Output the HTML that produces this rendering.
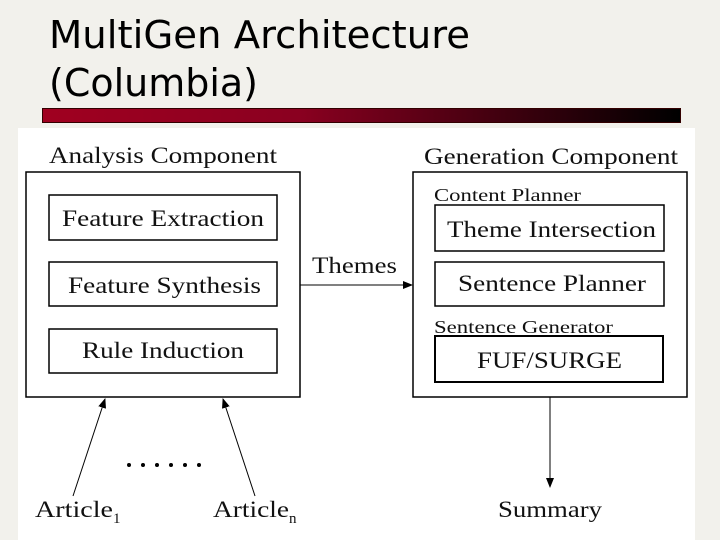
<!DOCTYPE html>
<html><head><meta charset="utf-8"><style>
body{margin:0;width:720px;height:540px;background:#f2f1ec;overflow:hidden;position:relative;font-family:"DejaVu Sans","Liberation Sans",sans-serif}
.bar{position:absolute;left:42px;top:108px;width:637px;height:13px;background:linear-gradient(to right,#a00020,#8a0020 40%,#000);border:1px solid #300}
svg{position:absolute;left:0;top:0}
</style></head><body>
<div class="bar"></div>
<svg width="720" height="540" font-family="Liberation Serif,serif" fill="#111">
<defs><marker id="a" markerWidth="10" markerHeight="8" refX="9" refY="4" orient="auto" markerUnits="userSpaceOnUse"><path d="M0,0 L10,4 L0,8 Z" fill="#000"/></marker></defs>
<g font-family="DejaVu Sans,Liberation Sans,sans-serif" font-size="38" fill="#000">
<text x="49" y="48" textLength="421" lengthAdjust="spacingAndGlyphs">MultiGen Architecture</text>
<text x="49" y="96" textLength="209" lengthAdjust="spacingAndGlyphs">(Columbia)</text>
</g>
<rect x="18" y="128" width="677" height="412" fill="#fff"/>
<g fill="none" stroke="#000" stroke-width="1.5">
<rect x="26" y="172" width="274" height="225"/>
<rect x="413" y="172" width="274" height="225"/>
<rect x="49" y="195" width="228" height="45"/>
<rect x="49" y="262" width="228" height="44"/>
<rect x="49" y="329" width="228" height="44"/>
<rect x="435" y="205" width="229" height="46"/>
<rect x="435" y="262" width="229" height="44"/>
<rect x="435" y="336" width="228" height="46" stroke-width="2"/>
<line x1="300" y1="285" x2="412" y2="285" stroke-width="1" marker-end="url(#a)"/>
<line x1="73" y1="496" x2="105" y2="399" stroke-width="1" marker-end="url(#a)"/>
<line x1="255" y1="496" x2="223" y2="399" stroke-width="1" marker-end="url(#a)"/>
<line x1="550" y1="397" x2="550" y2="487" stroke-width="1" marker-end="url(#a)"/>
</g>
<g font-size="23" lengthAdjust="spacingAndGlyphs">
<text x="49" y="163" textLength="228" lengthAdjust="spacingAndGlyphs">Analysis Component</text>
<text x="424" y="164" textLength="254" lengthAdjust="spacingAndGlyphs">Generation Component</text>
<text x="62" y="226" textLength="202" lengthAdjust="spacingAndGlyphs">Feature Extraction</text>
<text x="68" y="293" textLength="193" lengthAdjust="spacingAndGlyphs">Feature Synthesis</text>
<text x="82" y="358" textLength="162" lengthAdjust="spacingAndGlyphs">Rule Induction</text>
<text x="312" y="273" textLength="85" lengthAdjust="spacingAndGlyphs">Themes</text>
<text x="447" y="237" textLength="209" lengthAdjust="spacingAndGlyphs">Theme Intersection</text>
<text x="458" y="291" textLength="188" lengthAdjust="spacingAndGlyphs">Sentence Planner</text>
<text x="477" y="368" textLength="145" lengthAdjust="spacingAndGlyphs">FUF/SURGE</text>
<text x="35" y="517" textLength="78" lengthAdjust="spacingAndGlyphs">Article</text><text x="113" y="523" font-size="15">1</text>
<text x="213" y="517" textLength="76" lengthAdjust="spacingAndGlyphs">Article</text><text x="289" y="523" font-size="15">n</text>
<text x="498" y="517" textLength="104" lengthAdjust="spacingAndGlyphs">Summary</text>
</g>
<g font-size="18">
<text x="434" y="201" textLength="147" lengthAdjust="spacingAndGlyphs">Content Planner</text>
<text x="434" y="333" textLength="179" lengthAdjust="spacingAndGlyphs">Sentence Generator</text>
</g>
<g fill="#000"><circle cx="129" cy="465" r="2"/><circle cx="143" cy="465" r="2"/><circle cx="157" cy="465" r="2"/><circle cx="171" cy="465" r="2"/><circle cx="185" cy="465" r="2"/><circle cx="199" cy="465" r="2"/></g>
</svg>
</body></html>
